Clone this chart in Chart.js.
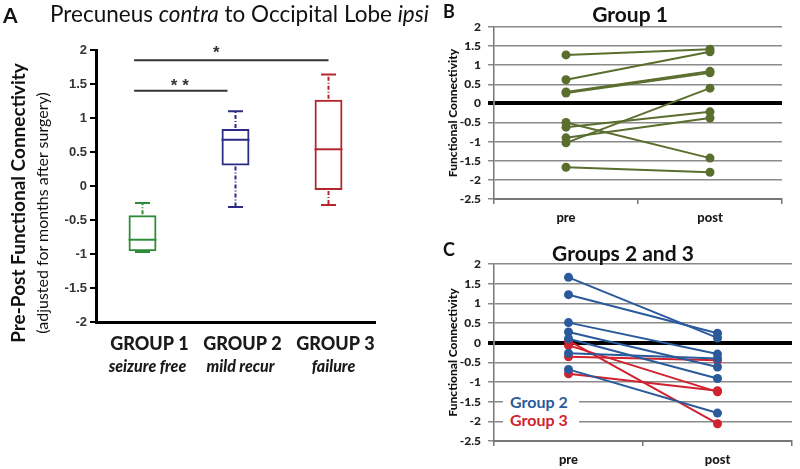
<!DOCTYPE html>
<html><head><meta charset="utf-8">
<script src="https://cdn.jsdelivr.net/npm/chart.js@4"></script>
<style>
body{margin:0;background:#fff;}
#wrap{position:relative;width:800px;height:469px;overflow:hidden;background:#fff;font-family:Lato,'Open Sans',sans-serif;color:#111;}
canvas{position:absolute;}
.t{position:absolute;white-space:nowrap;line-height:1;transform:translateY(-50%);}
.c{position:absolute;white-space:nowrap;line-height:1;transform:translate(-50%,-50%);}
.v{position:absolute;white-space:nowrap;line-height:1;transform:translate(-50%,-50%) rotate(-90deg);}
#legC{position:absolute;left:503px;top:392px;width:76px;height:38px;background:#fff;}
#legC div{position:absolute;left:7px;white-space:nowrap;line-height:1;font-weight:700;font-size:16px;transform:translateY(-50%);}
</style></head>
<body><div id="wrap">
<canvas id="cA" width="400" height="400" style="left:0px;top:0px"></canvas>
<canvas id="cB" width="380" height="230" style="left:420px;top:0px"></canvas>
<canvas id="cC" width="380" height="239" style="left:420px;top:230px"></canvas>

<div class="t" style="left:3px;top:14px;font-weight:700;font-size:21px">A</div>
<div class="t" style="left:50px;top:14px;font-size:22.5px">Precuneus <i>contra</i> to Occipital Lobe <i>ipsi</i></div>
<div class="v" style="left:17px;top:203px;font-weight:700;font-size:19px">Pre-Post Functional Connectivity</div>
<div class="v" style="left:42px;top:213px;font-size:16px">(adjusted for months after surgery)</div>

<div class="t" style="left:443px;top:11px;font-weight:700;font-size:18px">B</div>
<div class="c" style="left:630px;top:13px;font-weight:700;font-size:21px">Group 1</div>

<div class="t" style="left:443px;top:249px;font-weight:700;font-size:18px">C</div>
<div class="c" style="left:623px;top:252px;font-weight:700;font-size:21px">Groups 2 and 3</div>

<div id="legC">
  <div style="top:10px;color:#2b5a9b">Group 2</div>
  <div style="top:28px;color:#d0232f">Group 3</div>
</div>
</div>
<script>
// ---------- Panel A data (box plot) ----------
const boxGroups = ['GROUP 1', 'GROUP 2', 'GROUP 3'];
const boxSubLabels = ['seizure free', 'mild recur', 'failure'];
const boxMin = [-0.97, -0.31, -0.28];
const boxQ1 = [-0.96, 0.30, -0.06];
const boxMedian = [-0.79, 0.68, 0.54];
const boxQ3 = [-0.43, 0.84, 1.27];
const boxMax = [-0.25, 1.10, 1.64];
const sigBars = [
  {from: 0, to: 2, y: 1.85, label: '*'},
  {from: 0, to: 1, y: 1.40, label: '* *'}
];

// ---------- Panel B data (Group 1, pre vs post) ----------
const prePost = ['pre', 'post'];
const group1Pre  = [1.27, 0.62, 0.30, 0.27, -0.50, -0.62, -0.90, -1.03, -1.67];
const group1Post = [1.42, 1.35, 0.84, 0.80, -1.43, -0.22, -0.38, 0.40, -1.80];

// ---------- Panel C data (Groups 2 and 3) ----------
const group2Pre  = [1.66, 1.22, 0.51, 0.27, 0.10, -0.27, -0.68];
const group2Post = [0.12, 0.24, -0.29, -0.62, -0.91, -0.40, -1.79];
const group3Pre  = [0.05, -0.07, -0.36, -0.79];
const group3Post = [-2.06, -1.25, -0.45, -1.22];

const boxColors = ['#2e8b3a', '#2b2b86', '#b3262e'];
const g1Color = '#5a6e2e';
const g2Color = '#2b5a9b';
const g3Color = '#d0232f';

const fmtTick = v => String(Number(Number(v).toFixed(1)));

const boxPlugin = {
  id: 'boxExtras',
  afterDatasetsDraw(chart) {
    const {ctx, scales: {x, y}} = chart;
    const bars = chart.getDatasetMeta(0).data;
    ctx.save();
    boxGroups.forEach((g, i) => {
      const cx = x.getPixelForValue(i);
      const hw = bars[i].width / 2;
      ctx.strokeStyle = boxColors[i];
      ctx.lineWidth = 2;
      ctx.setLineDash([]);
      ctx.beginPath();
      ctx.moveTo(cx - hw, y.getPixelForValue(boxMedian[i]));
      ctx.lineTo(cx + hw, y.getPixelForValue(boxMedian[i]));
      ctx.stroke();
      // whiskers
      ctx.setLineDash([4, 2, 1, 2]);
      ctx.beginPath();
      ctx.moveTo(cx, y.getPixelForValue(boxQ3[i]) - 1);
      ctx.lineTo(cx, y.getPixelForValue(boxMax[i]));
      ctx.moveTo(cx, y.getPixelForValue(boxQ1[i]) + 1);
      ctx.lineTo(cx, y.getPixelForValue(boxMin[i]));
      ctx.stroke();
      ctx.setLineDash([]);
      ctx.beginPath();
      ctx.moveTo(cx - 7.5, y.getPixelForValue(boxMax[i]));
      ctx.lineTo(cx + 7.5, y.getPixelForValue(boxMax[i]));
      ctx.moveTo(cx - 7.5, y.getPixelForValue(boxMin[i]));
      ctx.lineTo(cx + 7.5, y.getPixelForValue(boxMin[i]));
      ctx.stroke();
      // sub labels
      ctx.fillStyle = '#1a1a1a';
      ctx.font = 'italic 900 16px Lato';
      ctx.textAlign = 'center';
      ctx.textBaseline = 'middle';
      ctx.fillText(boxSubLabels[i], cx + 5, 367);
    });
    // significance bars
    sigBars.forEach(s => {
      const x0 = x.getPixelForValue(s.from - 0.09);
      const x1 = x.getPixelForValue(s.to) - (s.to === 1 ? 8 : 0);
      const yy = y.getPixelForValue(s.y);
      ctx.strokeStyle = '#333';
      ctx.lineWidth = 2;
      ctx.beginPath();
      ctx.moveTo(x0, yy);
      ctx.lineTo(x1, yy);
      ctx.stroke();
      ctx.fillStyle = '#333';
      ctx.font = '700 17px "Liberation Sans"';
      ctx.textAlign = 'center';
      ctx.textBaseline = 'alphabetic';
      ctx.fillText(s.label, (x0 + x1) / 2 + (s.to === 1 ? -1 : -15), yy + (s.to === 1 ? 0 : -2));
    });
    ctx.restore();
  }
};

new Chart(document.getElementById('cA'), {
  type: 'bar',
  data: {
    labels: boxGroups,
    datasets: [{
      data: boxGroups.map((g, i) => [boxQ1[i], boxQ3[i]]),
      backgroundColor: 'rgba(255,255,255,0)',
      borderColor: boxColors,
      borderWidth: 2,
      borderSkipped: false,
      barPercentage: 0.3,
      categoryPercentage: 1
    }]
  },
  options: {
    responsive: false, animation: false, devicePixelRatio: 1,
    layout: {padding: {top: 50, right: 25, left: 0, bottom: 0}},
    plugins: {legend: {display: false}, tooltip: {enabled: false}},
    scales: {
      x: {
        grid: {display: false, drawTicks: false},
        border: {display: true, color: '#000', width: 3},
        ticks: {font: {family: 'Lato', weight: '900', size: 18}, color: '#1a1a1a', padding: 11, labelOffset: 7},
        afterFit(s) { s.height = 78; }
      },
      y: {
        min: -2, max: 2,
        ticks: {stepSize: 0.5, callback: fmtTick, font: {family: 'Liberation Sans', weight: 'bold', size: 13}, color: '#333', padding: 3},
        grid: {drawOnChartArea: false, color: '#000', lineWidth: 2, tickLength: 6},
        border: {display: true, color: '#000', width: 3},
        afterFit(s) { s.width = 96; }
      }
    }
  },
  plugins: [boxPlugin]
});

function pairSets(pre, post, color) {
  return pre.map((v, i) => ({
    data: [v, post[i]],
    borderColor: color,
    backgroundColor: color,
    pointBackgroundColor: color,
    pointBorderColor: color,
    pointRadius: 4.5,
    pointBorderWidth: 0,
    borderWidth: 2
  }));
}

function pairOptions(padRight, padTop, xHeight) {
  return {
    responsive: false, animation: false, devicePixelRatio: 1,
    layout: {padding: {top: padTop, right: padRight, left: 0, bottom: 0}},
    plugins: {legend: {display: false}, tooltip: {enabled: false}},
    scales: {
      x: {
        offset: true,
        grid: {offset: true, drawOnChartArea: false, color: '#777', lineWidth: 1.5, tickLength: 5},
        border: {display: true, color: '#777', width: 2},
        ticks: {font: {family: 'Lato', weight: '900', size: 13}, color: '#1a1a1a', padding: 6},
        afterFit(s) { s.height = xHeight; }
      },
      y: {
        min: -2.5, max: 2,
        ticks: {stepSize: 0.5, callback: fmtTick, font: {family: 'Lato', weight: '900', size: 12}, color: '#222', padding: 7},
        grid: {
          color: c => (c.tick && c.tick.value === 0) ? '#000' : '#8a8a8a',
          lineWidth: c => (c.tick && c.tick.value === 0) ? 4 : 1.5,
          tickLength: 6
        },
        border: {display: true, color: '#777', width: 1.5},
        title: {display: true, text: 'Functional Connectivity', font: {family: 'Lato', weight: '900', size: 12}, color: '#111', padding: {top: 26, bottom: 0}},
        afterFit(s) { s.width = 74; }
      }
    }
  };
}

new Chart(document.getElementById('cB'), {
  type: 'line',
  data: {labels: prePost, datasets: pairSets(group1Pre, group1Post, g1Color)},
  options: pairOptions(18, 27, 31)
});

new Chart(document.getElementById('cC'), {
  type: 'line',
  data: {labels: prePost, datasets: pairSets(group2Pre, group2Post, g2Color).concat(pairSets(group3Pre, group3Post, g3Color))},
  options: pairOptions(8, 34, 28)
});
</script>
</body></html>
